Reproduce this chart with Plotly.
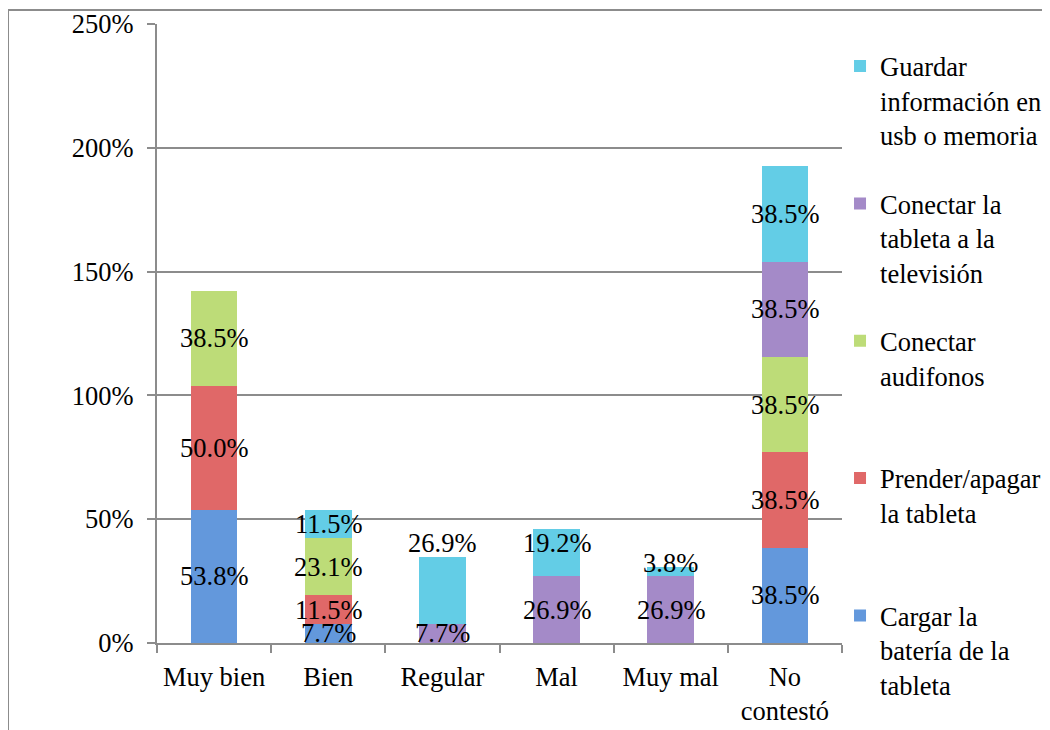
import plotly.graph_objects as go

# categories on the x axis
categorias = ["Muy bien", "Bien", "Regular", "Mal", "Muy mal", "No<br>contestó"]

# series (percentages per category)
cargar = [53.8, 7.7, 0, 0, 0, 38.5]
prender = [50.0, 11.5, 0, 0, 0, 38.5]
audifonos = [38.5, 23.1, 0, 0, 0, 38.5]
television = [0, 0, 7.7, 26.9, 26.9, 38.5]
guardar = [0, 11.5, 26.9, 19.2, 3.8, 38.5]

series = [
    ("Cargar la<br>batería de la<br>tableta", cargar, "#6398dc"),
    ("Prender/apagar<br>la tableta<br> ", prender, "#e06868"),
    ("Conectar<br>audifonos<br> ", audifonos, "#bddc78"),
    ("Conectar la<br>tableta a la<br>televisión", television, "#a48ac8"),
    ("Guardar<br>información en<br>usb o memoria", guardar, "#63cde6"),
]

FONT = "Liberation Serif, Times New Roman, serif"
FS = 26.5
GRAY = "#8c8c8c"

# small manual nudges (px) for labels that sit off-centre in the original
nudge = {(2, 4): 48, (3, 4): 10, (4, 4): 9}

fig = go.Figure()
annotations = []
base = [0] * len(categorias)
for k, (name, vals, color) in enumerate(series):
    fig.add_trace(go.Bar(
        x=categorias, y=vals, name=name,
        marker=dict(color=color, line=dict(width=0)),
        legendgroup=str(k), legendrank=100 - k,
        hoverinfo="skip",
    ))
    for i, v in enumerate(vals):
        if v > 0:
            annotations.append(dict(
                x=categorias[i], y=base[i] + v / 2, xref="x", yref="y",
                text=f"{v:.1f}%", showarrow=False,
                font=dict(family=FONT, size=FS, color="black"),
                yshift=nudge.get((i, k), 0),
            ))
        base[i] += v

# outer chart border (top and left edges visible in the crop)
shapes = [
    dict(type="line", xref="paper", yref="paper", x0=-0.2175, x1=1.35, y0=1.0226, y1=1.0226,
         line=dict(color=GRAY, width=2)),
    dict(type="line", xref="paper", yref="paper", x0=-0.2175, x1=-0.2175, y0=1.0226, y1=-0.2,
         line=dict(color=GRAY, width=2)),
]

fig.update_layout(
    barmode="stack",
    bargap=0.59,
    width=1050, height=730,
    margin=dict(l=149, r=216, t=16, b=95, autoexpand=False),
    paper_bgcolor="white", plot_bgcolor="white",
    font=dict(family=FONT, size=FS, color="black"),
    annotations=annotations,
    shapes=shapes,
    legend=dict(
        xref="container", x=0.7924, xanchor="left",
        yref="container", y=0.953, yanchor="top",
        traceorder="grouped", tracegroupgap=31,
        valign="top", font=dict(family=FONT, size=FS),
        bgcolor="rgba(0,0,0,0)", maxheight=720,
    ),
    xaxis=dict(
        showline=True, linecolor=GRAY, linewidth=2,
        ticks="outside", tickson="boundaries", ticklen=8, tickcolor=GRAY, tickwidth=2,
        showgrid=False, ticklabelstandoff=9, automargin=False,
    ),
    yaxis=dict(
        range=[0, 250], dtick=50, ticksuffix="%",
        showline=True, linecolor=GRAY, linewidth=2,
        ticks="outside", ticklen=8, tickcolor=GRAY, tickwidth=2,
        showgrid=True, gridcolor=GRAY, gridwidth=2,
        zeroline=False, ticklabelstandoff=8, automargin=False,
    ),
)

fig.write_html("out.html")
